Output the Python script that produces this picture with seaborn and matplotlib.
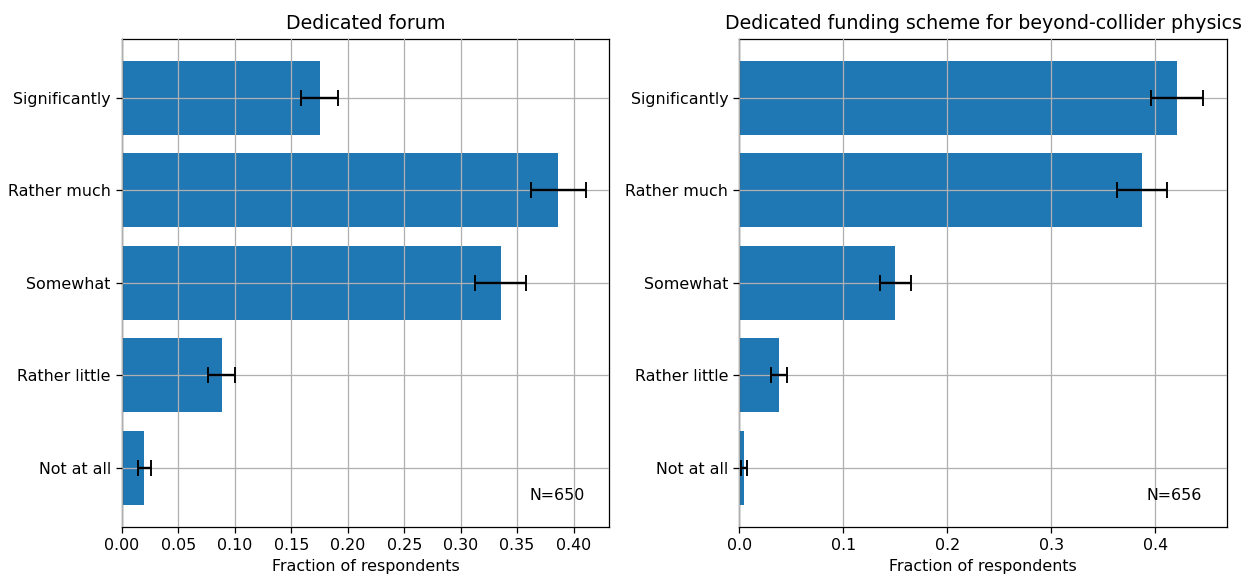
import matplotlib
matplotlib.use("Agg")
import matplotlib.pyplot as plt
import seaborn as sns
import pandas as pd

categories = ["Significantly", "Rather much", "Somewhat", "Rather little", "Not at all"]

forum_values = [0.1753, 0.3866, 0.3356, 0.0883, 0.0199]
forum_errors = [0.0165, 0.0244, 0.0227, 0.0117, 0.0056]
forum_n = 650

funding_values = [0.4209, 0.3872, 0.1500, 0.0385, 0.0046]
funding_errors = [0.0253, 0.0243, 0.0151, 0.0077, 0.0027]
funding_n = 656

titles = ["Dedicated forum", "Dedicated funding scheme for beyond-collider physics"]

DPI = 114
fig, axes = plt.subplots(1, 2, figsize=(1244 / DPI, 575 / DPI), dpi=DPI)
fig.subplots_adjust(left=0.098, right=0.986, bottom=0.0835, top=0.933, wspace=0.267)

panels = [(forum_values, forum_errors, forum_n), (funding_values, funding_errors, funding_n)]
for ax, (vals, errs, n), title in zip(axes, panels, titles):
    df = pd.DataFrame({"category": categories, "fraction": vals})
    sns.barplot(data=df, y="category", x="fraction", order=categories, orient="h",
                color="#1f77b4", saturation=1, width=0.8, ax=ax, zorder=1)
    ax.errorbar(vals, range(len(categories)), xerr=errs, fmt="none",
                ecolor="black", capsize=5, elinewidth=1.5, capthick=1.2, zorder=3)
    ax.set_ylim(len(categories) - 1 + 0.64, -0.64)
    ax.autoscale(axis="x")
    ax.set_xlim(left=0)
    ax.grid(True, color="#b0b0b0", linewidth=0.8)
    ax.set_axisbelow(False)
    ax.set_ylabel("")
    ax.set_xlabel("Fraction of respondents", fontsize=10)
    ax.set_title(title, fontsize=12)
    ax.tick_params(labelsize=10)
    ax.text(0.95, 0.05, f"N={n}", transform=ax.transAxes, ha="right", va="bottom", fontsize=10)

fig.savefig("out.png", dpi=DPI)
